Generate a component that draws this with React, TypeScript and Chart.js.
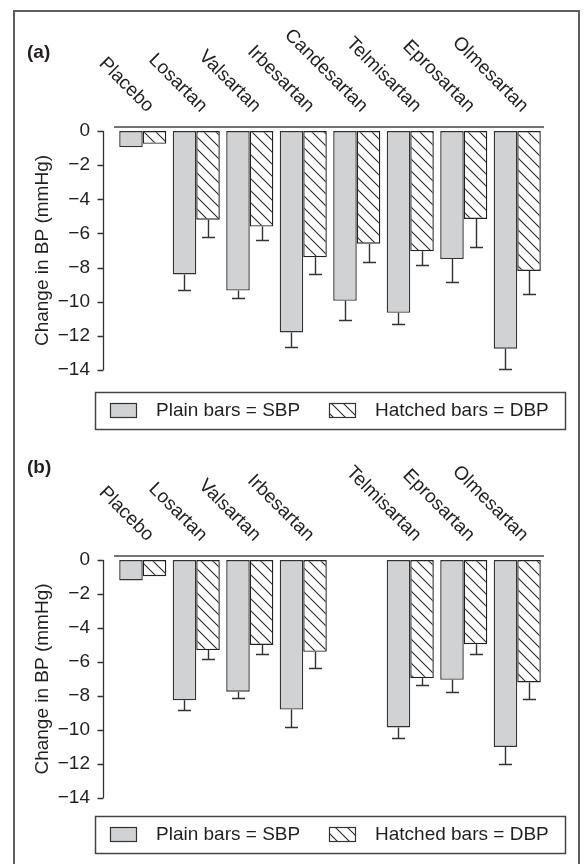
import React, { useEffect, useRef } from 'react';
import { Chart, registerables } from 'chart.js';

Chart.register(...registerables);

const FONT = '"Liberation Sans", Arial, Helvetica, sans-serif';

const categories = ['Placebo', 'Losartan', 'Valsartan', 'Irbesartan', 'Candesartan', 'Telmisartan', 'Eprosartan', 'Olmesartan'];
const labelsPanelA = ['Placebo', 'Losartan', 'Valsartan', 'Irbesartan', 'Candesartan', 'Telmisartan', 'Eprosartan', 'Olmesartan'];
const labelsPanelB = ['Placebo', 'Losartan', 'Valsartan', 'Irbesartan', '', 'Telmisartan', 'Eprosartan', 'Olmesartan'];
const yTickValues = [0, -2, -4, -6, -8, -10, -12, -14];
const legendLabels = ['Plain bars = SBP', 'Hatched bars = DBP'];
const yAxisTitle = 'Change in BP (mmHg)';

// Panel (a)
const sbpA = [-0.95, -8.4, -9.35, -11.8, -9.95, -10.65, -7.5, -12.75];
const sbpErrA = [null, 0.9, 0.45, 0.85, 1.1, 0.65, 1.35, 1.2];
const dbpA = [-0.75, -5.2, -5.6, -7.4, -6.6, -7.05, -5.15, -8.2];
const dbpErrA = [null, 1.0, 0.8, 1.0, 1.1, 0.8, 1.65, 1.35];

// Panel (b)
const sbpB = [-1.2, -8.25, -7.75, -8.8, null, -9.85, -7.05, -11.0];
const sbpErrB = [null, 0.6, 0.35, 1.0, null, 0.6, 0.7, 1.0];
const dbpB = [-0.95, -5.3, -5.0, -5.4, null, -6.95, -4.95, -7.2];
const dbpErrB = [null, 0.55, 0.55, 0.95, null, 0.4, 0.6, 0.95];

type Spec = {
  letter: string;
  labels: string[];
  sbp: (number | null)[];
  sbpErr: (number | null)[];
  dbp: (number | null)[];
  dbpErr: (number | null)[];
  padTop: number;
  padBottom: number;
  letterY: number;
  legendTop: number;
};

const GRAY = '#d1d2d4';
const DARK = '#333333';
const TEXT = '#231f20';

function makeHatch(): CanvasPattern | string {
  const s = 12;
  const c = document.createElement('canvas');
  c.width = s;
  c.height = s;
  const g = c.getContext('2d');
  if (!g) return '#ffffff';
  g.fillStyle = '#ffffff';
  g.fillRect(0, 0, s, s);
  g.strokeStyle = '#2a2a2a';
  g.lineWidth = 1.1;
  g.beginPath();
  g.moveTo(-2, -2);
  g.lineTo(s + 2, s + 2);
  g.moveTo(-2, s - 2);
  g.lineTo(2, s + 2);
  g.moveTo(s - 2, -2);
  g.lineTo(s + 2, 2);
  g.stroke();
  const p = g.createPattern(c, 'repeat');
  return p || '#ffffff';
}

function makeDecor(spec: Spec, hatch: CanvasPattern | string) {
  return {
    id: 'decor',
    afterDatasetsDraw(chart: any) {
      const ctx = chart.ctx as CanvasRenderingContext2D;
      const ys = chart.scales.y;
      const sets = [
        { vals: spec.sbp, errs: spec.sbpErr },
        { vals: spec.dbp, errs: spec.dbpErr },
      ];
      ctx.save();
      ctx.strokeStyle = DARK;
      ctx.lineWidth = 1.4;
      sets.forEach((set, di) => {
        const meta = chart.getDatasetMeta(di);
        meta.data.forEach((el: any, i: number) => {
          const v = set.vals[i];
          const e = set.errs[i];
          if (v == null || e == null || e === 0) return;
          const x = Math.round(el.x) + 0.5;
          const y0 = ys.getPixelForValue(v);
          const y1 = Math.round(ys.getPixelForValue(v - e)) + 0.5;
          ctx.beginPath();
          ctx.moveTo(x, y0);
          ctx.lineTo(x, y1);
          ctx.moveTo(x - 6.5, y1);
          ctx.lineTo(x + 6.5, y1);
          ctx.stroke();
        });
      });
      ctx.restore();
    },
    afterDraw(chart: any) {
      const ctx = chart.ctx as CanvasRenderingContext2D;
      const area = chart.chartArea;
      const ys = chart.scales.y;
      const xs = chart.scales.x;
      ctx.save();
      // y axis line and ticks
      const ax = Math.round(area.left - 13) + 0.5;
      ctx.strokeStyle = DARK;
      ctx.lineWidth = 1.3;
      ctx.beginPath();
      ctx.moveTo(ax, ys.getPixelForValue(0));
      ctx.lineTo(ax, ys.getPixelForValue(-14));
      yTickValues.forEach((t) => {
        const py = Math.round(ys.getPixelForValue(t)) + 0.5;
        ctx.moveTo(ax - 6, py);
        ctx.lineTo(ax, py);
      });
      ctx.stroke();
      // top line
      ctx.strokeStyle = '#444444';
      ctx.lineWidth = 1.5;
      ctx.beginPath();
      ctx.moveTo(area.left - 2, area.top - 4);
      ctx.lineTo(area.right, area.top - 4);
      ctx.stroke();
      // category labels
      ctx.fillStyle = TEXT;
      ctx.font = `19px ${FONT}`;
      ctx.textAlign = 'right';
      ctx.textBaseline = 'alphabetic';
      spec.labels.forEach((lab, i) => {
        if (!lab) return;
        const px = xs.getPixelForValue(i) + 4;
        const py = area.top - 18;
        ctx.save();
        ctx.translate(px, py);
        ctx.rotate(Math.PI / 4);
        ctx.fillText(lab, 0, 0);
        ctx.restore();
      });
      // panel letter
      ctx.font = `bold 19px ${FONT}`;
      ctx.textAlign = 'left';
      ctx.textBaseline = 'middle';
      ctx.fillText(spec.letter, 27, spec.letterY);
      // legend
      const lt = spec.legendTop;
      ctx.strokeStyle = '#444444';
      ctx.lineWidth = 1.5;
      ctx.strokeRect(95.5, lt + 0.5, 470, 37);
      const sy = lt + 11.5;
      ctx.fillStyle = GRAY;
      ctx.fillRect(110.5, sy, 26, 14);
      ctx.lineWidth = 1.2;
      ctx.strokeStyle = DARK;
      ctx.strokeRect(110.5, sy, 26, 14);
      ctx.fillStyle = hatch as any;
      ctx.fillRect(329.5, sy, 26, 14);
      ctx.strokeRect(329.5, sy, 26, 14);
      ctx.fillStyle = TEXT;
      ctx.font = `19px ${FONT}`;
      ctx.textBaseline = 'middle';
      ctx.fillText(legendLabels[0], 156, lt + 19);
      ctx.fillText(legendLabels[1], 375, lt + 19);
      ctx.restore();
    },
  };
}

function buildChart(canvas: HTMLCanvasElement, spec: Spec) {
  const hatch = makeHatch();
  return new Chart(canvas, {
    type: 'bar',
    data: {
      labels: categories,
      datasets: [
        {
          label: 'SBP',
          data: spec.sbp as any,
          backgroundColor: GRAY,
          borderColor: '#333333',
          borderWidth: 1.4,
          borderSkipped: false,
          categoryPercentage: 0.88,
          barPercentage: 1,
        },
        {
          label: 'DBP',
          data: spec.dbp as any,
          backgroundColor: hatch as any,
          borderColor: '#222222',
          borderWidth: 1.4,
          borderSkipped: false,
          categoryPercentage: 0.88,
          barPercentage: 1,
        },
      ],
    },
    options: {
      responsive: false,
      animation: false,
      devicePixelRatio: 1,
      layout: { padding: { top: spec.padTop, bottom: spec.padBottom, left: 0, right: 40 } },
      plugins: {
        legend: { display: false },
        tooltip: { enabled: false },
        title: { display: false },
      },
      scales: {
        x: { display: false },
        y: {
          min: -14,
          max: 0,
          afterFit: (scale: any) => {
            scale.width = 116;
          },
          border: { display: false },
          grid: { display: false, drawTicks: false, tickLength: 0 },
          ticks: {
            stepSize: 2,
            padding: 26,
            color: TEXT,
            font: { family: FONT, size: 19 },
            callback: (v: any) => (Number(v) === 0 ? '0' : '\u2212' + Math.abs(Number(v))),
          },
          title: {
            display: true,
            text: yAxisTitle,
            color: TEXT,
            font: { family: FONT, size: 19 },
            padding: { top: 31.6, bottom: 0 },
          },
        },
      },
    },
    plugins: [makeDecor(spec, hatch)],
  });
}

export default function App() {
  const refA = useRef<HTMLCanvasElement>(null);
  const refB = useRef<HTMLCanvasElement>(null);

  useEffect(() => {
    if (!refA.current || !refB.current) return;
    const a = buildChart(refA.current, {
      letter: '(a)',
      labels: labelsPanelA,
      sbp: sbpA,
      sbpErr: sbpErrA,
      dbp: dbpA,
      dbpErr: dbpErrA,
      padTop: 131,
      padBottom: 62,
      letterY: 53,
      legendTop: 392,
    });
    const b = buildChart(refB.current, {
      letter: '(b)',
      labels: labelsPanelB,
      sbp: sbpB,
      sbpErr: sbpErrB,
      dbp: dbpB,
      dbpErr: dbpErrB,
      padTop: 128,
      padBottom: 66,
      letterY: 36,
      legendTop: 384,
    });
    return () => {
      a.destroy();
      b.destroy();
    };
  }, []);

  return (
    <div style={{ position: 'fixed', left: 0, top: 0, width: 584, height: 864, background: '#ffffff', overflow: 'hidden' }}>
      <div
        style={{
          position: 'absolute',
          left: 13,
          top: 10,
          width: 567,
          height: 900,
          border: '2px solid #5e5e5e',
          boxSizing: 'border-box',
        }}
      />
      <canvas ref={refA} width={584} height={432} style={{ position: 'absolute', left: 0, top: 0, width: 584, height: 432 }} />
      <canvas ref={refB} width={584} height={432} style={{ position: 'absolute', left: 0, top: 432, width: 584, height: 432 }} />
    </div>
  );
}
